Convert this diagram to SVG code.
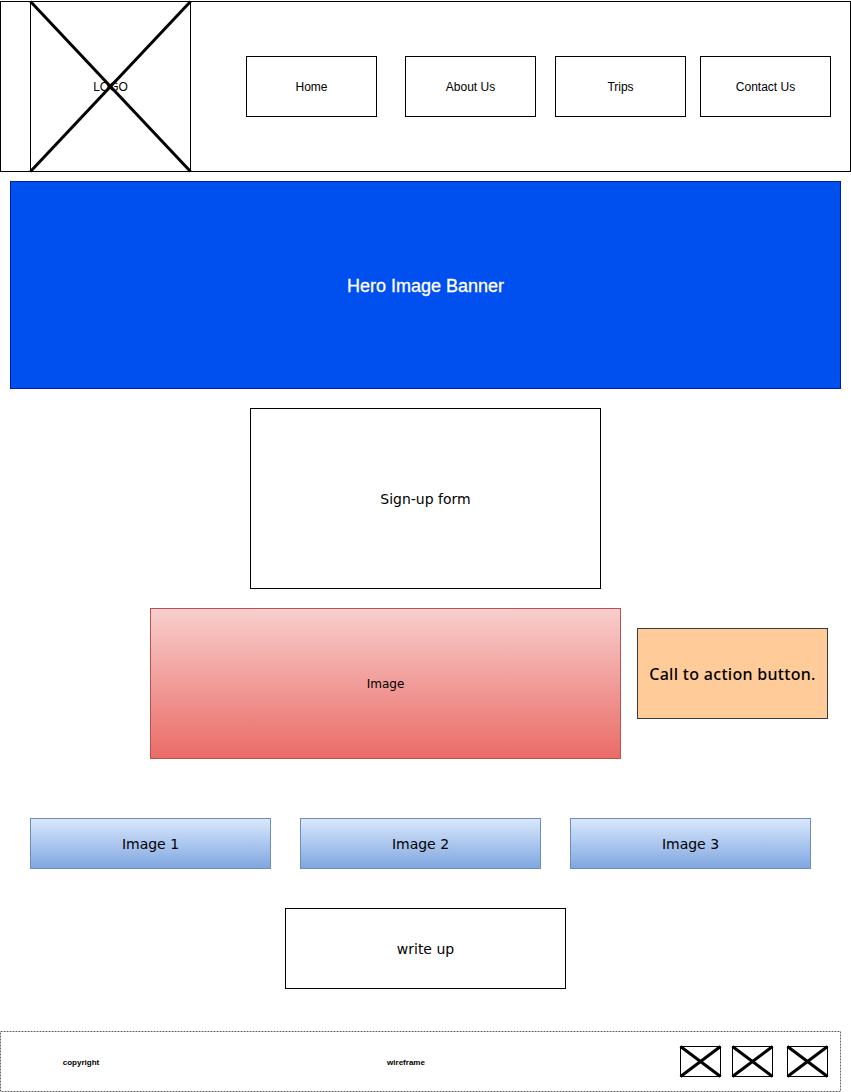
<svg xmlns="http://www.w3.org/2000/svg" width="851" height="1092" viewBox="0 0 851 1092">
<style>
.box{fill:#fff;stroke:#000;stroke-width:1}
.nav{font-family:"Liberation Sans",Arial,sans-serif;font-size:12px;fill:#000;text-anchor:middle;dominant-baseline:central}
.ver{font-family:"DejaVu Sans",Verdana,sans-serif;font-size:14px;fill:#000;text-anchor:middle;dominant-baseline:central}
.x{stroke:#000;stroke-width:3}
.foot{font-family:"Liberation Sans",Arial,sans-serif;font-size:8px;font-weight:bold;fill:#000;text-anchor:middle;dominant-baseline:central}
</style>
<defs>
<linearGradient id="red" x1="0" y1="0" x2="0" y2="1"><stop offset="0" stop-color="#f8cecc"/><stop offset="1" stop-color="#ea6b66"/></linearGradient>
<linearGradient id="blue" x1="0" y1="0" x2="0" y2="1"><stop offset="0" stop-color="#dae8fc"/><stop offset="1" stop-color="#7ea6e0"/></linearGradient>
</defs>
<rect width="851" height="1092" fill="#fff"/>
<g id="header"><rect class="box" x="0.5" y="1.5" width="850" height="170"/></g>
<g id="logo">
<rect class="box" x="30.5" y="1.5" width="160" height="170"/>
<line class="x" x1="30.5" y1="1.5" x2="190.5" y2="171.5"/>
<line class="x" x1="190.5" y1="1.5" x2="30.5" y2="171.5"/>
<text class="nav" x="110.5" y="86.5" fill="#333">LOGO</text>
</g>
<g id="nav-home"><rect class="box" x="246.5" y="56.5" width="130" height="60"/><text class="nav" x="311.5" y="86.5">Home</text></g>
<g id="nav-about"><rect class="box" x="405.5" y="56.5" width="130" height="60"/><text class="nav" x="470.5" y="86.5">About Us</text></g>
<g id="nav-trips"><rect class="box" x="555.5" y="56.5" width="130" height="60"/><text class="nav" x="620.5" y="86.5">Trips</text></g>
<g id="nav-contact"><rect class="box" x="700.5" y="56.5" width="130" height="60"/><text class="nav" x="765.5" y="86.5">Contact Us</text></g>
<g id="hero">
<rect x="10.5" y="181.5" width="830" height="207" fill="#0050ef" stroke="#001dbc"/>
<text x="425.5" y="286" font-family="'Liberation Sans',Arial,sans-serif" font-size="18" fill="#fff" stroke="#fff" stroke-width="0.3" text-anchor="middle" dominant-baseline="central">Hero Image Banner</text>
</g>
<g id="signup"><rect class="box" x="250.5" y="408.5" width="350" height="180"/><text class="ver" x="425.5" y="498.5">Sign-up form</text></g>
<g id="image">
<rect x="150.5" y="608.5" width="470" height="150" fill="url(#red)" stroke="#b85450"/>
<text x="385.5" y="683.5" font-family="'DejaVu Sans',Tahoma,sans-serif" font-size="12" fill="#000" text-anchor="middle" dominant-baseline="central">Image</text>
</g>
<g id="cta">
<rect x="637.5" y="628.5" width="190" height="90" fill="#ffcc99" stroke="#36393d"/>
<text x="732.5" y="674" font-family="'Noto Sans','Open Sans',sans-serif" font-size="16" font-weight="500" letter-spacing="0.3" fill="#000" text-anchor="middle" dominant-baseline="central">Call to action button.</text>
</g>
<g id="image1"><rect x="30.5" y="818.5" width="240" height="50" fill="url(#blue)" stroke="#6c8ebf"/><text class="ver" x="150.5" y="843.5">Image 1</text></g>
<g id="image2"><rect x="300.5" y="818.5" width="240" height="50" fill="url(#blue)" stroke="#6c8ebf"/><text class="ver" x="420.5" y="843.5">Image 2</text></g>
<g id="image3"><rect x="570.5" y="818.5" width="240" height="50" fill="url(#blue)" stroke="#6c8ebf"/><text class="ver" x="690.5" y="843.5">Image 3</text></g>
<g id="writeup"><rect class="box" x="285.5" y="908.5" width="280" height="80"/><text class="ver" x="425.5" y="948.5">write up</text></g>
<g id="footer">
<rect x="0.5" y="1031.5" width="840" height="60" fill="#fff" stroke="#666" stroke-dasharray="2 1"/>
<text class="foot" x="81" y="1062">copyright</text>
<text class="foot" x="406" y="1062">wireframe</text>
</g>
<g id="icon1"><rect class="box" x="680.5" y="1046.5" width="40" height="30"/><line class="x" stroke-width="2" x1="680.5" y1="1046.5" x2="720.5" y2="1076.5"/><line class="x" stroke-width="2" x1="720.5" y1="1046.5" x2="680.5" y2="1076.5"/></g>
<g id="icon2"><rect class="box" x="732.5" y="1046.5" width="40" height="30"/><line class="x" stroke-width="2" x1="732.5" y1="1046.5" x2="772.5" y2="1076.5"/><line class="x" stroke-width="2" x1="772.5" y1="1046.5" x2="732.5" y2="1076.5"/></g>
<g id="icon3"><rect class="box" x="787.5" y="1046.5" width="40" height="30"/><line class="x" stroke-width="2" x1="787.5" y1="1046.5" x2="827.5" y2="1076.5"/><line class="x" stroke-width="2" x1="827.5" y1="1046.5" x2="787.5" y2="1076.5"/></g>
<g id="connectors"/>
</svg>
